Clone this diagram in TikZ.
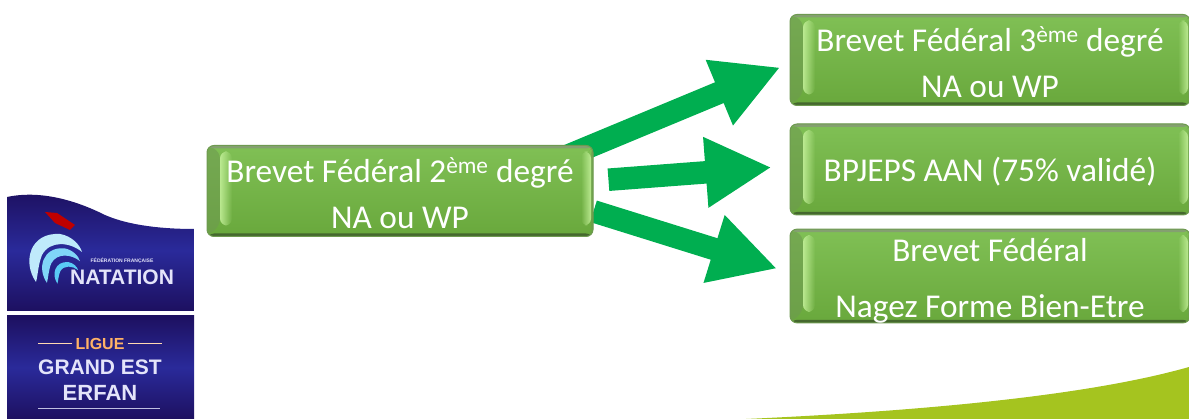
\documentclass[tikz,border=0pt]{standalone}
\usepackage{fontspec}
\setmainfont{Carlito}
\newfontfamily\logofont{Liberation Sans}
\usepackage{tikz}
\usetikzlibrary{arrows.meta,backgrounds,fadings}
\definecolor{boxtop}{HTML}{80C055}
\definecolor{boxbottom}{HTML}{69A83C}
\definecolor{boxedge}{HTML}{6E9A50}
\definecolor{boxgrey}{HTML}{84A070}
\definecolor{boxdark}{HTML}{45682E}
\definecolor{boxlight}{HTML}{C6F29C}
\definecolor{arrowgreen}{HTML}{00AE50}
\definecolor{logonavy}{HTML}{1D1060}
\definecolor{logoblue}{HTML}{2A2A9A}
\definecolor{logotxt}{HTML}{E4E4FA}
\definecolor{swoosh}{HTML}{A5C41F}
\newcommand{\lowertext}[1]{\rule{0pt}{#1}}
\tikzstyle{box}       = [rectangle, rounded corners=7pt, inner sep=0pt, minimum height=91pt, text=white, align=center,
    font=\fontsize{33.3}{46}\selectfont, draw=boxedge, line width=1pt, top color=boxtop, bottom color=boxbottom,
    path picture={
        \fill[boxgrey] ([yshift=-3pt]path picture bounding box.north west) rectangle (path picture bounding box.north east);
        \fill[boxdark] ([yshift=3pt]path picture bounding box.south west) rectangle (path picture bounding box.south east);
        \fill[boxedge, fill opacity=.6] (path picture bounding box.south west) -- ++(13pt,11pt) -- ([shift={(13pt,-6pt)}]path picture bounding box.north west) -- (path picture bounding box.north west) -- cycle;
        \fill[boxedge, fill opacity=.6] (path picture bounding box.south east) -- ++(-2pt,3pt) -- ([shift={(-2pt,-3pt)}]path picture bounding box.north east) -- (path picture bounding box.north east) -- cycle;
        \fill[boxlight, fill opacity=.85, path fading=east] ([shift={(13pt,11pt)}]path picture bounding box.south west) rectangle ([shift={(25pt,-6pt)}]path picture bounding box.north west);
        \fill[boxlight, fill opacity=.85, path fading=west] ([shift={(-12pt,11pt)}]path picture bounding box.south east) rectangle ([shift={(-2pt,-6pt)}]path picture bounding box.north east);
    }]
\tikzstyle{bigarrow}  = [line width=22.5pt, draw=arrowgreen, -{Triangle[length=66pt,width=66pt]}]
\tikzstyle{logotext}  = [inner sep=0pt, text=logotxt, font=\logofont\bfseries]

\begin{document}
\begin{tikzpicture}[x=1pt,y=-1pt]
    \useasboundingbox (0,0) rectangle (1189,419);

    % background curve
    \fill[swoosh] (746,419) .. controls (900,412) and (1080,398) .. (1189,367) -- (1189,419) -- cycle;

    % boxes
    \node[box, minimum width=386pt] (deux) at (400,191) {\lowertext{30pt}Brevet Fédéral 2\textsuperscript{ème} degré\\NA ou WP};
    \node[box, minimum width=400pt] (trois) at (990,60) {\lowertext{30pt}Brevet Fédéral 3\textsuperscript{ème} degré\\NA ou WP};
    \node[box, minimum width=400pt] (bpjeps) at (990,169.5) {\lowertext{28pt}BPJEPS AAN (75\% validé)};
    \node[box, minimum width=400pt, font=\fontsize{33.3}{56}\selectfont] (nagez) at (990,276) {\lowertext{32pt}Brevet Fédéral\\Nagez Forme Bien-Etre};

    % arrows
    \begin{scope}[on background layer]
        \draw[bigarrow, shorten <=-30pt, shorten >=10pt] (deux.north east) -- (trois.181);
        \draw[bigarrow, shorten <=15pt, shorten >=18pt] (deux.3) -- (bpjeps.179.5);
        \draw[bigarrow, shorten <=0pt, shorten >=13pt] (deux.-6) -- (nagez.179.1);
    \end{scope}

    % logo
    \shade[top color=logonavy, bottom color=logonavy, middle color=logoblue] (7,197) .. controls (40,190) and (75,200) .. (105,215) .. controls (130,226) and (165,229) .. (194,229) -- (194,311) -- (7,311) -- cycle;
    \shade[top color=logonavy, bottom color=logonavy, middle color=logoblue] (7,316) rectangle (194,419);
    \fill[red!75!black] (45,212) -- (57,213) -- (75,225) -- (70,230) -- (55,223) -- cycle;
    \foreach \s/\c in {1/cyan!25,.72/cyan!50,.45/cyan!65} {
        \begin{scope}[shift={(75,285)},scale=\s,shift={(-75,-285)}]
            \fill[\c] (36,282) .. controls (22,262) and (30,232) .. (60,234) .. controls (72,236) and (80,245) .. (82,252) .. controls (70,242) and (50,240) .. (42,255) .. controls (38,265) and (38,275) .. (36,282) -- cycle;
        \end{scope}
    }
    \node[logotext, font=\logofont\bfseries\fontsize{5}{6}\selectfont] (federation) at (122,261) {FÉDÉRATION FRANÇAISE};
    \node[logotext, font=\logofont\bfseries\fontsize{21}{23}\selectfont] (natation) at (122,277) {NATATION};
    \node[logotext, text=orange!60!white, font=\logofont\bfseries\fontsize{16}{18}\selectfont] (ligue) at (100,344) {LIGUE};
    \node[logotext, font=\logofont\bfseries\fontsize{21}{23}\selectfont] (grandest) at (100,367) {GRAND EST};
    \node[logotext, font=\logofont\bfseries\fontsize{22}{24}\selectfont] (erfan) at (100,393) {ERFAN};
    \draw[orange!30!white, line width=1pt] (ligue.west) ++(-3pt,0) -- ++(-34pt,0);
    \draw[orange!30!white, line width=1pt] (ligue.east) ++(3pt,0) -- ++(34pt,0);
    \draw[white!70!logoblue, line width=1pt] (38,409) -- (160,409);
\end{tikzpicture}
\end{document}
